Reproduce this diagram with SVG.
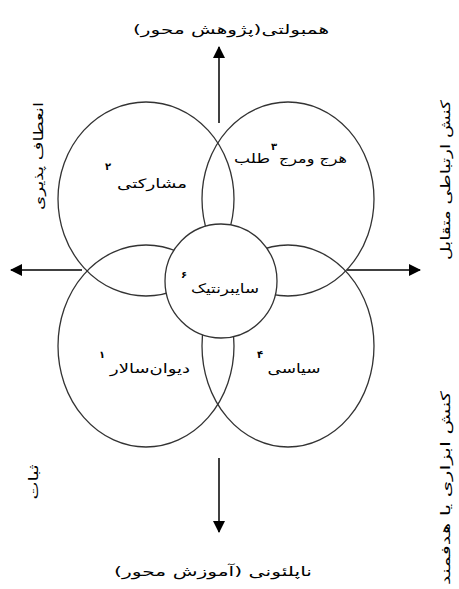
<svg xmlns="http://www.w3.org/2000/svg" width="459" height="589" viewBox="0 0 459 589">
<style>
.c{fill:none;stroke:#333;stroke-width:1.3}
.w{fill:#fff;stroke:#333;stroke-width:1.3}
.t{font-family:"DejaVu Sans",sans-serif;font-size:13px;fill:#000;direction:rtl;unicode-bidi:embed}
.s{font-family:"DejaVu Sans",sans-serif;font-size:10px;font-weight:bold;fill:#000}
.a{stroke:#000;stroke-width:1.5}
</style>
<defs>
<marker id="ah" viewBox="0 0 12 12" refX="11" refY="6" markerWidth="12" markerHeight="12" markerUnits="userSpaceOnUse" orient="auto">
<path d="M0,0 L12,6 L0,12 Z" fill="#000"/>
</marker>
</defs>
<g id="connectors">
<line class="a" x1="82" y1="270" x2="11" y2="270" marker-end="url(#ah)"/>
<line class="a" x1="347" y1="270" x2="420" y2="270" marker-end="url(#ah)"/>
<line class="a" x1="219" y1="123" x2="219" y2="47" marker-end="url(#ah)"/>
<line class="a" x1="219" y1="458" x2="219" y2="532" marker-end="url(#ah)"/>
</g>
<g id="node-collegial">
<ellipse class="c" cx="146" cy="199" rx="88" ry="97"/>
<text class="t" x="152" y="188" text-anchor="middle" textLength="70" lengthAdjust="spacingAndGlyphs">مشارکتی</text>
<text class="s" x="108" y="170" text-anchor="middle">۲</text>
</g>
<g id="node-anarchical">
<ellipse class="c" cx="288" cy="199" rx="86" ry="97"/>
<text class="t" x="313" y="163" text-anchor="middle" textLength="68" lengthAdjust="spacingAndGlyphs">هرج ومرج</text>
<text class="s" x="274" y="150" text-anchor="middle">۳</text>
<text class="t" x="252" y="163" text-anchor="middle" textLength="36" lengthAdjust="spacingAndGlyphs">طلب</text>
</g>
<g id="node-bureaucratic">
<ellipse class="c" cx="146" cy="346" rx="88" ry="101"/>
<text class="t" x="150" y="373" text-anchor="middle" textLength="80" lengthAdjust="spacingAndGlyphs">دیوان‌سالار</text>
<text class="s" x="102" y="358" text-anchor="middle">۱</text>
</g>
<g id="node-political">
<ellipse class="c" cx="288" cy="346" rx="86" ry="101"/>
<text class="t" x="294" y="373" text-anchor="middle" textLength="53" lengthAdjust="spacingAndGlyphs">سیاسی</text>
<text class="s" x="260" y="358" text-anchor="middle">۴</text>
</g>
<g id="node-cybernetic">
<ellipse class="w" cx="221" cy="281" rx="56" ry="57"/>
<text class="t" x="225" y="293" text-anchor="middle" textLength="68" lengthAdjust="spacingAndGlyphs">سایبرنتیک</text>
<text class="s" x="184" y="278" text-anchor="middle">۶</text>
</g>
<g id="labels">
<text class="t" x="231" y="34" text-anchor="middle" textLength="196" lengthAdjust="spacingAndGlyphs">همبولتی(پژوهش محور)</text>
<text class="t" x="213" y="576" text-anchor="middle" textLength="198" lengthAdjust="spacingAndGlyphs">ناپلئونی (آموزش محور)</text>
<text class="t" transform="translate(43,156) rotate(-90)" text-anchor="middle" textLength="108" lengthAdjust="spacingAndGlyphs">انعطاف پذیری</text>
<text class="t" transform="translate(38,482) rotate(-90)" text-anchor="middle" textLength="35" lengthAdjust="spacingAndGlyphs">ثبات</text>
<text class="t" transform="translate(450,180) rotate(-90)" text-anchor="middle" textLength="160" lengthAdjust="spacingAndGlyphs">کنش ارتباطی متقابل</text>
<text class="t" transform="translate(450,488) rotate(-90)" text-anchor="middle" textLength="194" lengthAdjust="spacingAndGlyphs">کنش ابزاری یا هدفمند</text>
</g>
</svg>
